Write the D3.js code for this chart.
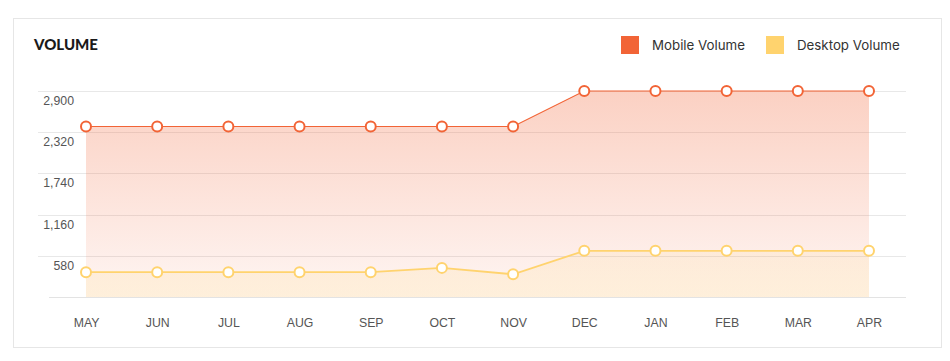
<!DOCTYPE html>
<html>
<head>
<meta charset="utf-8">
<script src="https://cdn.jsdelivr.net/npm/d3@7"></script>
<style>
  body { margin: 0; background: #fff; }
  svg { display: block; }
</style>
</head>
<body>
<div id="chart"></div>
<script>
var months = ["MAY","JUN","JUL","AUG","SEP","OCT","NOV","DEC","JAN","FEB","MAR","APR"];
var mobileVolume = [2400,2400,2400,2400,2400,2400,2400,2900,2900,2900,2900,2900];
var desktopVolume = [350,350,350,350,350,410,320,650,650,650,650,650];
var yTicks = [580,1160,1740,2320,2900];
var seriesNames = ["Mobile Volume","Desktop Volume"];
var seriesColors = ["#f26436","#ffd36e"];

var WIDTH = 950, HEIGHT = 361;

var svg = d3.select("#chart").append("svg")
    .attr("width", WIDTH)
    .attr("height", HEIGHT);

var defs = svg.append("defs");
var g1 = defs.append("linearGradient").attr("id","mobileFill")
    .attr("x1",0).attr("y1",0).attr("x2",0).attr("y2",1);
g1.append("stop").attr("offset","0%").attr("stop-color","#f26436").attr("stop-opacity",0.3);
g1.append("stop").attr("offset","100%").attr("stop-color","#f26436").attr("stop-opacity",0.06);
var g2 = defs.append("linearGradient").attr("id","desktopFill")
    .attr("x1",0).attr("y1",0).attr("x2",0).attr("y2",1);
g2.append("stop").attr("offset","0%").attr("stop-color","#ffd36e").attr("stop-opacity",0.12);
g2.append("stop").attr("offset","100%").attr("stop-color","#ffd36e").attr("stop-opacity",0.18);

// card
svg.append("rect")
    .attr("x",13.5).attr("y",18.5)
    .attr("width",928).attr("height",329)
    .attr("fill","#fff").attr("stroke","#e6e6e6");

svg.append("text")
    .attr("x",34).attr("y",50)
    .attr("font-family","Lato, 'Open Sans', sans-serif")
    .attr("font-weight",900)
    .attr("font-size","15px")
    .attr("fill","#1a1a1a")
    .text("VOLUME");

// legend
var legendX = [621, 766];
var legend = svg.selectAll("g.legend").data(seriesNames).enter().append("g")
    .attr("class","legend")
    .attr("transform", function(d,i){ return "translate(" + legendX[i] + ",36)"; });
legend.append("rect").attr("width",18).attr("height",18)
    .attr("fill", function(d,i){ return seriesColors[i]; });
legend.append("text").attr("x",31).attr("y",14)
    .attr("font-family","Inter, 'Open Sans', sans-serif")
    .attr("font-size","13.3px")
    .attr("fill","#333")
    .text(function(d){ return d; });

var x = d3.scalePoint().domain(months).range([86, 869]);
var y = d3.scaleLinear().domain([0, 2900]).range([297, 91]);

// gridlines
svg.selectAll("line.grid").data(yTicks).enter().append("line")
    .attr("class","grid")
    .attr("x1",38).attr("x2",906)
    .attr("y1", function(d){ return Math.round(y(d)) + 0.5; })
    .attr("y2", function(d){ return Math.round(y(d)) + 0.5; })
    .attr("stroke","#e8e8e8");
svg.append("line")
    .attr("x1",49).attr("x2",906)
    .attr("y1",y(0)+0.5).attr("y2",y(0)+0.5)
    .attr("stroke","#e3e3e3");

// y labels
svg.selectAll("text.ylab").data(yTicks).enter().append("text")
    .attr("class","ylab")
    .attr("x",74).attr("y", function(d){ return y(d) + 14; })
    .attr("text-anchor","end")
    .attr("font-family","'Liberation Sans', Arial, sans-serif")
    .attr("font-size","12.3px")
    .attr("fill","#555")
    .text(d3.format(","));

// x axis
var xAxis = svg.append("g")
    .attr("transform","translate(0,297)")
    .call(d3.axisBottom(x).tickSize(0).tickPadding(21));
xAxis.select(".domain").remove();
xAxis.selectAll("text")
    .attr("font-family","'Liberation Sans', Arial, sans-serif")
    .attr("font-size","12.3px")
    .attr("fill","#555");

var series = [mobileVolume, desktopVolume];
var fills = ["url(#mobileFill)","url(#desktopFill)"];

var area = d3.area()
    .x(function(d,i){ return x(months[i]); })
    .y0(y(0))
    .y1(function(d){ return y(d); });
var line = d3.line()
    .x(function(d,i){ return x(months[i]); })
    .y(function(d){ return y(d); });

series.forEach(function(s, k){
    svg.append("path").datum(s)
        .attr("d", area)
        .attr("fill", fills[k]);
});
series.forEach(function(s, k){
    svg.append("path").datum(s)
        .attr("d", line)
        .attr("fill","none")
        .attr("stroke", seriesColors[k])
        .attr("stroke-width", k === 0 ? 1.2 : 1.8);
    svg.selectAll("circle.s" + k).data(s).enter().append("circle")
        .attr("class","s" + k)
        .attr("cx", function(d,i){ return x(months[i]); })
        .attr("cy", function(d){ return y(d); })
        .attr("r",5)
        .attr("fill","#fff")
        .attr("stroke", seriesColors[k])
        .attr("stroke-width",2);
});
</script>
</body>
</html>
